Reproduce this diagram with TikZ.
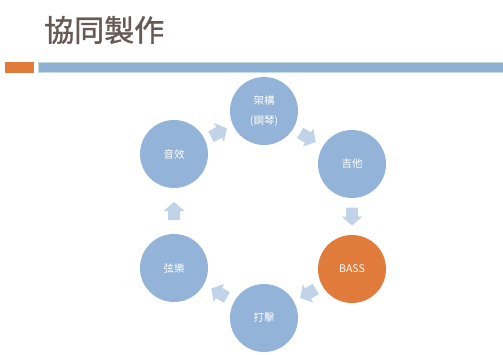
\documentclass[tikz,border=0pt]{standalone}
\usepackage{fontspec}
\setmainfont{Noto Sans CJK TC}
\newfontfamily\titlefont[FakeBold=1.2]{Noto Sans CJK TC}
\usetikzlibrary{calc}
\definecolor{titlebrown}{HTML}{675A55}
\definecolor{barorange}{HTML}{E07B3C}
\definecolor{barblue}{HTML}{8FB0D4}
\definecolor{barline}{HTML}{C4DEE0}
\definecolor{stepblue}{HTML}{93B3D8}
\definecolor{steporange}{HTML}{E07B3C}
\definecolor{arrowblue}{HTML}{C0D3E8}
\tikzset{
  stepcircle/.style={circle,fill=stepblue,minimum size=68pt,inner sep=0pt,text=white,
    font=\fontsize{10.5}{20}\selectfont,align=center},
  arrowfill/.style={fill=arrowblue}
}
\newcommand{\cyclearrow}[3]{\begin{scope}[shift={($(#1)!0.5!(#2)$)},rotate=#3]
  \fill[arrowfill] (-9,-6) -- (0,-6) -- (0,-10.5) -- (9,0) -- (0,10.5) -- (0,6) -- (-9,6) -- cycle;
\end{scope}}

\begin{document}
\begin{tikzpicture}[x=1pt,y=1pt]
    \useasboundingbox (0,0) rectangle (503,354);

    \coordinate (O) at (0,0);

    % title and bars
    \node[anchor=west,text=titlebrown,font=\titlefont\fontsize{30}{36}\selectfont,inner sep=0pt] (title) at (44,324) {協同製作};
    \fill[barorange] (5,281) rectangle (34,292);
    \draw[barline,fill=barblue,line width=0.8pt] (38,281.4) rectangle (504,291.6);

    % cycle
    \node[stepcircle] (jg) at (264,243) {架構\\(鋼琴)};
    \node[stepcircle] (gt) at (352,190) {吉他};
    \node[stepcircle,fill=steporange] (bs) at (352,85) {BASS};
    \node[stepcircle] (dj) at (264,36) {打擊};
    \node[stepcircle] (xy) at (174,86) {弦樂};
    \node[stepcircle] (yx) at (174,200) {音效};

    \cyclearrow{yx}{jg}{28}
    \cyclearrow{jg}{gt}{-30}
    \cyclearrow{gt}{bs}{-90}
    \cyclearrow{bs}{dj}{-150}
    \cyclearrow{dj}{xy}{150}
    \cyclearrow{xy}{yx}{90}
\end{tikzpicture}
\end{document}
